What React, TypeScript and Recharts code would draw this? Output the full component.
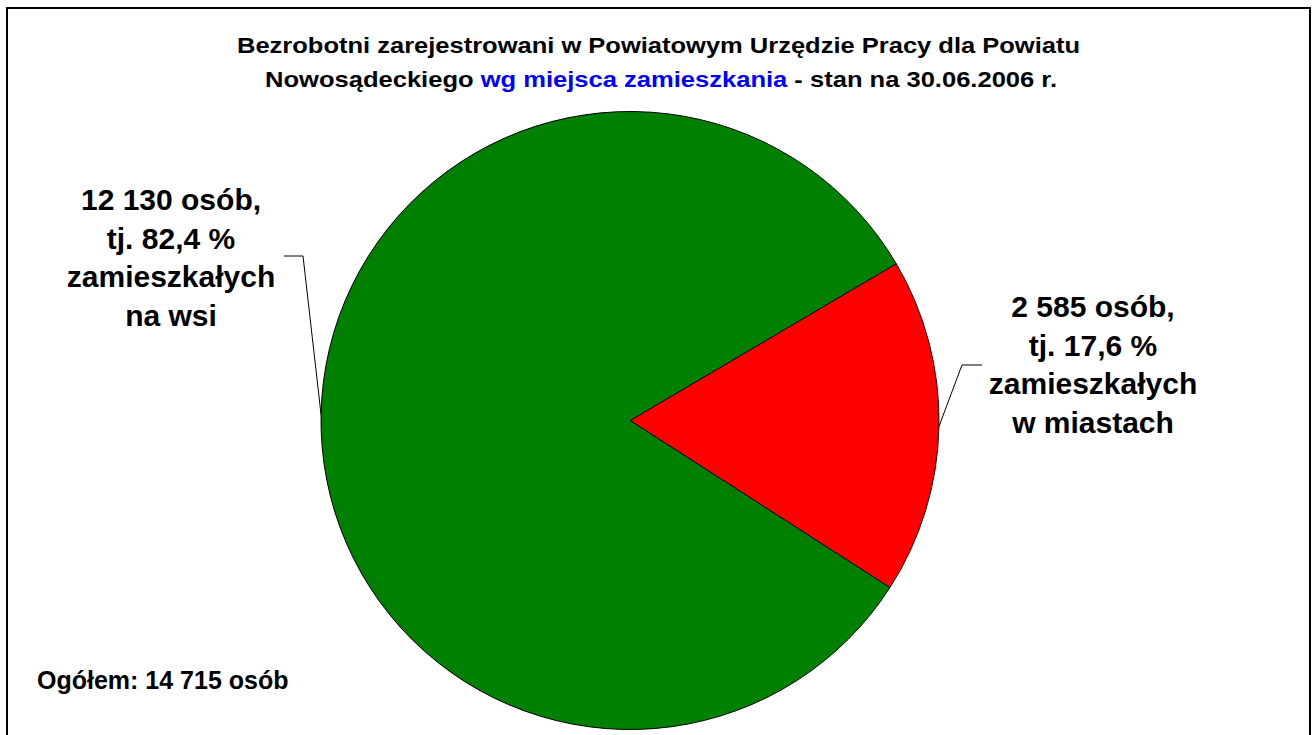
import React from 'react';
import { PieChart, Pie, Cell } from 'recharts';

const categories = ['zamieszkałych w miastach', 'zamieszkałych na wsi'];
const values = [2585, 12130];
const sliceColors = ['#FF0000', '#008000'];
const labelLines = [
  ['2 585 osób,', 'tj. 17,6 %', 'zamieszkałych', 'w miastach'],
  ['12 130 osób,', 'tj. 82,4 %', 'zamieszkałych', 'na wsi'],
];
const titleLine1 = 'Bezrobotni zarejestrowani w Powiatowym Urzędzie Pracy dla Powiatu';
const titleLine2a = 'Nowosądeckiego ';
const titleLine2b = 'wg miejsca zamieszkania';
const titleLine2c = ' - stan na 30.06.2006 r.';
const totalText = 'Ogółem: 14 715 osób';

const data = categories.map((name, i) => ({ name, value: values[i] }));

const FONT = '"Liberation Sans", Arial, sans-serif';
const RADIAN = Math.PI / 180;

const renderLabel = (props: any) => {
  const { cx, cy, midAngle, outerRadius, index } = props;
  const ex = cx + outerRadius * Math.cos(-midAngle * RADIAN);
  const ey = cy + outerRadius * Math.sin(-midAngle * RADIAN);
  const isRight = index === 0;
  const elbowX = isRight ? cx + 332 : cx - 327;
  const elbowY = isRight ? cy - 55.5 : cy - 164.5;
  const endX = isRight ? cx + 352 : cx - 346;
  const textX = isRight ? cx + 463 : cx - 459;
  const textY = isRight ? cy - 103.5 : cy - 210.5;
  return (
    <g key={`lbl-${index}`}>
      <polyline
        points={`${ex},${ey} ${elbowX},${elbowY} ${endX},${elbowY}`}
        fill="none"
        stroke="#000"
        strokeWidth={1}
      />
      <text
        x={textX}
        y={textY}
        textAnchor="middle"
        fontFamily={FONT}
        fontWeight="bold"
        fontSize={30}
        fill="#000"
      >
        {labelLines[index].map((t, j) => (
          <tspan key={j} x={textX} y={textY + j * 38.5}>
            {t}
          </tspan>
        ))}
      </text>
    </g>
  );
};

export default function App() {
  return (
    <div
      style={{
        position: 'absolute',
        left: 0,
        top: 0,
        width: 1312,
        height: 735,
        overflow: 'hidden',
        background: '#fff',
      }}
    >
      <div
        style={{
          position: 'absolute',
          left: 6,
          top: 7,
          width: 1305,
          height: 760,
          border: '2px solid #000',
          boxSizing: 'border-box',
        }}
      />
      <div style={{ position: 'absolute', left: 0, top: 0 }}>
        <PieChart width={1312} height={735} margin={{ top: 0, right: 0, bottom: 0, left: 0 }}>
          <Pie
            data={data}
            dataKey="value"
            nameKey="name"
            cx={630}
            cy={420.5}
            outerRadius={309}
            startAngle={30.5}
            endAngle={-329.5}
            stroke="#000"
            strokeWidth={1}
            label={renderLabel}
            labelLine={false}
            isAnimationActive={false}
          >
            {data.map((d, i) => (
              <Cell key={d.name} fill={sliceColors[i]} />
            ))}
          </Pie>
        </PieChart>
      </div>
      <svg
        width={1312}
        height={735}
        style={{ position: 'absolute', left: 0, top: 0, pointerEvents: 'none' }}
      >
        <text
          x={237}
          y={53}
          fontFamily={FONT}
          fontWeight="bold"
          fontSize={22}
          fill="#000"
          textLength={843}
          lengthAdjust="spacingAndGlyphs"
        >
          {titleLine1}
        </text>
        <text
          x={265}
          y={87}
          fontFamily={FONT}
          fontWeight="bold"
          fontSize={22}
          fill="#000"
          textLength={792}
          lengthAdjust="spacingAndGlyphs"
        >
          <tspan>{titleLine2a}</tspan>
          <tspan fill="#0000FF">{titleLine2b}</tspan>
          <tspan>{titleLine2c}</tspan>
        </text>
        <text x={37} y={689} fontFamily={FONT} fontWeight="bold" fontSize={25} fill="#000">
          {totalText}
        </text>
      </svg>
    </div>
  );
}
